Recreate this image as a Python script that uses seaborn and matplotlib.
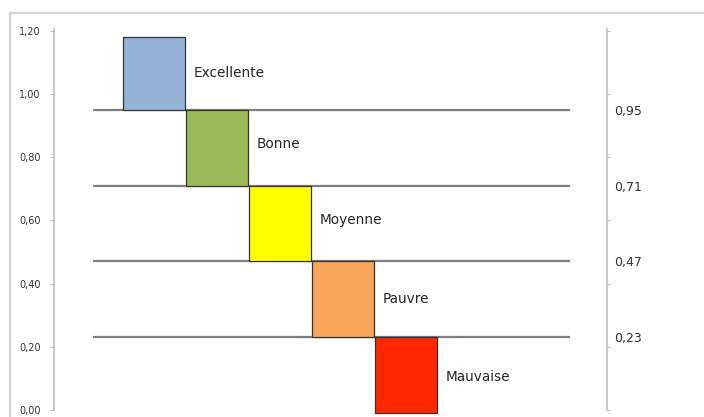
import matplotlib
matplotlib.use("Agg")
import matplotlib.pyplot as plt
from matplotlib.patches import Rectangle
import numpy as np
import pandas as pd
import seaborn as sns

# Quality classes, their lower bounds and band heights
categories = ["Excellente", "Bonne", "Moyenne", "Pauvre", "Mauvaise"]
lower = [0.95, 0.71, 0.47, 0.23, -0.01]
height = [0.23, 0.24, 0.24, 0.24, 0.24]
thresholds = [0.95, 0.71, 0.47, 0.23]
threshold_labels = ["0,95", "0,71", "0,47", "0,23"]
yticks = [0.0, 0.2, 0.4, 0.6, 0.8, 1.0, 1.2]
ytick_labels = ["0,00", "0,20", "0,40", "0,60", "0,80", "1,00", "1,20"]
colors = ["#95B3D7", "#9BBB59", "#FFFF00", "#F9A65A", "#FF2600"]

df = pd.DataFrame({"classe": categories, "bas": lower, "hauteur": height})

sns.set_theme(style="white")
plt.rcParams["font.family"] = ["DejaVu Sans"]

fig = plt.figure(figsize=(7.04, 4.17), dpi=100)
fig.patch.set_facecolor("white")

# light frame around the chart area
fig.add_artist(Rectangle((10 / 704, -0.1), 1.0, 1 - 13 / 417 + 0.1,
                         transform=fig.transFigure, fill=False,
                         edgecolor="#D4D4D4", linewidth=1.6))

y_lo, y_hi = -0.015, 1.205
px_per_unit = 316.0
top_px = 410 - y_hi * px_per_unit
bot_px = 410 - y_lo * px_per_unit
ax = fig.add_axes([54 / 704, 1 - bot_px / 417, (607 - 54) / 704, (bot_px - top_px) / 417])
ax.set_facecolor("none")

# floating boxes: each class spans [bas, bas + hauteur]
sns.barplot(data=df, x="classe", y="hauteur", bottom=df["bas"].to_numpy(),
            width=0.985, edgecolor="#333333", linewidth=0.9,
            saturation=1, color=colors[0], ax=ax)
for patch, c in zip(ax.patches, colors):
    patch.set_facecolor(c)

# class boundaries
for t in thresholds:
    ax.hlines(t, -0.97, 6.6, color="#7F7F7F", linewidth=1.6, zorder=0)

# class names next to each box
label_shift = [0.0, 0.012, 0.012, 0.0, -0.006]
for i, (c, b, h) in enumerate(zip(categories, lower, height)):
    ax.text(i + 0.62, b + h / 2 + label_shift[i], c,
            ha="left", va="center", fontsize=9.8, color="#262626")

ax.set_xlim(-1.59, 7.19)
ax.set_ylim(y_lo, y_hi)
ax.set_xlabel("")
ax.set_ylabel("")
ax.set_xticks([])
ax.set_yticks(yticks)
ax.set_yticklabels(ytick_labels)
ax.tick_params(axis="y", direction="out", length=3, width=0.8,
               color="#BFBFBF", labelsize=7, labelcolor="#333333", pad=6.5, left=True)

for side in ["top", "bottom"]:
    ax.spines[side].set_visible(False)
ax.spines["left"].set_bounds(0, y_hi)
ax.spines["left"].set_color("#BFBFBF")
ax.spines["left"].set_linewidth(1.2)
ax.spines["right"].set_visible(False)

# secondary axis carrying the boundary values
ax2 = ax.twinx()
ax2.set_ylim(ax.get_ylim())
for side in ["top", "bottom", "left"]:
    ax2.spines[side].set_visible(False)
ax2.spines["right"].set_bounds(0, y_hi)
ax2.spines["right"].set_color("#BFBFBF")
ax2.spines["right"].set_linewidth(1.2)
ax2.set_yticks(thresholds)
ax2.set_yticklabels(threshold_labels)
ax2.tick_params(axis="y", which="major", length=0, pad=5,
                labelsize=9, labelcolor="#333333", right=True)
ax2.set_yticks(yticks, minor=True)
ax2.tick_params(axis="y", which="minor", length=2, width=0.8,
                color="#BFBFBF", direction="out", right=True)

fig.savefig("out.png", dpi=100, facecolor="white")
